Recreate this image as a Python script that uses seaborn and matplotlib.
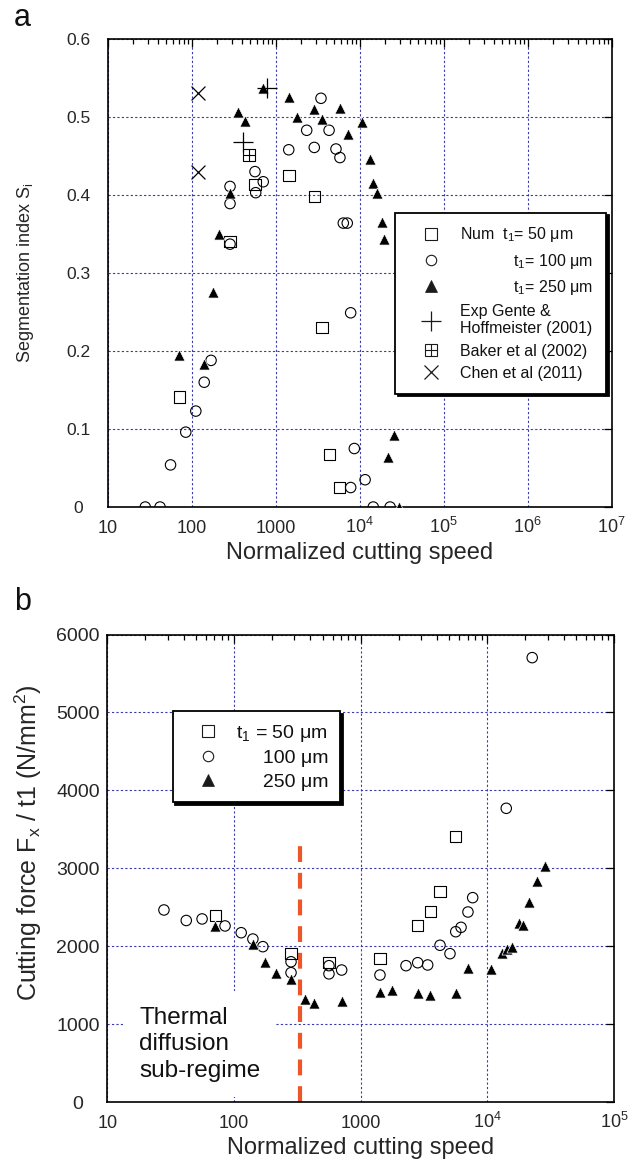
import numpy as np
import pandas as pd
import matplotlib
matplotlib.use("Agg")
import matplotlib.pyplot as plt
import seaborn as sns
from matplotlib.lines import Line2D
from matplotlib.ticker import LogLocator, NullFormatter

# ---------------- data: panel a (segmentation index) ----------------
a_sq50_x = [71, 286, 567, 1440, 2880, 3560, 4320, 5720]
a_sq50_y = [0.141, 0.340, 0.413, 0.425, 0.398, 0.230, 0.067, 0.025]

a_ci100_x = [28, 42, 56, 85, 112, 141, 170, 286, 286, 286, 567, 578, 711, 1430,
             2340, 2880, 3460, 4320, 5220, 5820, 6380, 7110, 7810, 8630, 7810,
             11600, 14500, 23000]
a_ci100_y = [0.0, 0.0, 0.054, 0.096, 0.123, 0.160, 0.188, 0.411, 0.389, 0.337,
             0.430, 0.403, 0.417, 0.458, 0.483, 0.461, 0.524, 0.483, 0.459, 0.448,
             0.364, 0.364, 0.249, 0.075, 0.025, 0.035, 0.0, 0.0]

a_tr250_x = [71, 141, 178, 211, 286, 359, 430, 711, 1440, 1810, 2880, 3590, 5820,
             7330, 10600, 13300, 14300, 16200, 18300, 19700, 21900, 25800, 29400]
a_tr250_y = [0.195, 0.183, 0.276, 0.350, 0.403, 0.507, 0.495, 0.537, 0.526, 0.500,
             0.510, 0.498, 0.511, 0.478, 0.494, 0.446, 0.416, 0.402, 0.366, 0.343,
             0.064, 0.092, 0.0]

a_gente_x = [405, 780]
a_gente_y = [0.468, 0.537]
a_baker_x = [481]
a_baker_y = [0.451]
a_chen_x = [120, 120]
a_chen_y = [0.531, 0.430]

a_xticks = [10, 100, 1000, 1e4, 1e5, 1e6, 1e7]
a_xticklabels = ["10", "100", "1000", r"10$^{4}$", r"10$^{5}$", r"10$^{6}$", r"10$^{7}$"]
a_yticks = [0, 0.1, 0.2, 0.3, 0.4, 0.5, 0.6]
a_yticklabels = ["0", "0.1", "0.2", "0.3", "0.4", "0.5", "0.6"]
a_legend_labels = [r"Num  $\mathrm{t}_1$= 50 μm",
                   r"            $\mathrm{t}_1$= 100 μm",
                   r"            $\mathrm{t}_1$= 250 μm",
                   "Exp Gente &\nHoffmeister (2001)",
                   "Baker et al (2002)",
                   "Chen et al (2011)"]

# ---------------- data: panel b (cutting force) ----------------
b_sq50_x = [71, 282, 562, 1420, 2830, 3570, 4230, 5650]
b_sq50_y = [2390, 1910, 1790, 1845, 2263, 2443, 2700, 3406]

b_ci100_x = [28, 42, 56, 85, 114, 141, 169, 282, 282, 562, 562, 708, 1420, 2280,
             2820, 3380, 4230, 5070, 5630, 6200, 7030, 7660, 14100, 22600]
b_ci100_y = [2465, 2330, 2350, 2260, 2173, 2092, 1994, 1800, 1660, 1750, 1645,
             1694, 1630, 1750, 1788, 1759, 2012, 1904, 2186, 2242, 2439, 2623,
             3770, 5704]

b_tr250_x = [71, 141, 175, 213, 282, 363, 428, 716, 1420, 1780, 2850, 3520, 5630,
             7060, 10600, 13000, 14200, 15700, 17800, 19200, 21300, 24800, 28300]
b_tr250_y = [2263, 2024, 1801, 1652, 1575, 1318, 1267, 1297, 1416, 1438, 1403,
             1374, 1403, 1720, 1703, 1917, 1960, 1994, 2302, 2272, 2563, 2837, 3030]

b_regime_x = 330
b_regime_top = 3300
b_xticks = [10, 100, 1000, 1e4, 1e5]
b_xticklabels = ["10", "100", "1000", r"10$^{4}$", r"10$^{5}$"]
b_yticks = [0, 1000, 2000, 3000, 4000, 5000, 6000]
b_yticklabels = ["0", "1000", "2000", "3000", "4000", "5000", "6000"]
b_legend_labels = [r"$\mathrm{t}_1$ = 50 μm", "     100 μm", "     250 μm"]
b_note = "Thermal\ndiffusion\nsub-regime"

# ---------------- style ----------------
sns.set_theme(style="white")
plt.rcParams['font.family'] = ['Liberation Sans', 'DejaVu Sans']
plt.rcParams['mathtext.fontset'] = 'custom'
plt.rcParams['mathtext.rm'] = 'Liberation Sans'
plt.rcParams['mathtext.it'] = 'Liberation Sans:italic'
plt.rcParams['mathtext.bf'] = 'Liberation Sans:bold'
plt.rcParams['text.color'] = '#111111'

GRID = '#3a3ab0'
fig = plt.figure(figsize=(6.29, 11.68), dpi=100)
ax1 = fig.add_axes([0.1712, 0.5659, 0.8013, 0.4007])
ax2 = fig.add_axes([0.1706, 0.0565, 0.8056, 0.4002])


def open_pts(ax, x, y, marker, ms, lw=0.8):
    sns.scatterplot(x=x, y=y, ax=ax, marker=marker, s=ms ** 2, facecolor='none',
                    edgecolor='black', linewidth=lw, zorder=3, legend=False)


def solid_pts(ax, x, y, marker, ms, lw=0.8):
    sns.scatterplot(x=x, y=y, ax=ax, marker=marker, s=ms ** 2, color='black',
                    linewidth=lw, zorder=3, legend=False)


def style_axes(ax, xlim, ylim, xticks, xlabels, yticks, ylabels, ysize):
    ax.set_xscale('log')
    ax.set_xlim(*xlim)
    ax.set_ylim(*ylim)
    ax.set_xticks(xticks, xlabels)
    ax.set_yticks(yticks, ylabels)
    ax.xaxis.set_minor_locator(LogLocator(base=10, subs=np.arange(2, 10), numticks=50))
    ax.xaxis.set_minor_formatter(NullFormatter())
    ax.grid(True, which='major', color=GRID, linestyle=(0, (2, 2)), linewidth=0.8)
    ax.grid(False, which='minor')
    for s in ax.spines.values():
        s.set_color('black')
        s.set_linewidth(1.2)
    ax.tick_params(which='both', direction='in', top=True, right=True,
                   color='black', width=0.9)
    ax.tick_params(which='major', length=6)
    ax.tick_params(which='minor', length=3.5)
    ax.tick_params(axis='x', which='major', labelsize=13, pad=19)
    ax.tick_params(axis='y', which='major', labelsize=ysize, pad=21)
    for t in ax.get_xticklabels():
        t.set_verticalalignment('baseline')
    for t in ax.get_yticklabels():
        t.set_horizontalalignment('center')
    ax.set_facecolor('white')


# ---------------- panel a ----------------
open_pts(ax1, a_sq50_x, a_sq50_y, 's', 8)
open_pts(ax1, a_ci100_x, a_ci100_y, 'o', 7.5)
solid_pts(ax1, a_tr250_x, a_tr250_y, '^', 8, lw=0.5)
solid_pts(ax1, a_gente_x, a_gente_y, '+', 15, lw=0.9)
open_pts(ax1, a_baker_x, a_baker_y, 's', 9)
solid_pts(ax1, a_baker_x, a_baker_y, '+', 9, lw=0.8)
solid_pts(ax1, a_chen_x, a_chen_y, 'x', 10, lw=0.9)

style_axes(ax1, (10, 1e7), (0, 0.6), a_xticks, a_xticklabels,
           a_yticks, a_yticklabels, 12.5)
ax1.set_xlabel("Normalized cutting speed", fontsize=17, labelpad=3)
ax1.set_ylabel(r"Segmentation index S$_\mathrm{i}$", fontsize=13)
ax1.yaxis.set_label_coords(-0.143, 0.5)

h_sq = Line2D([], [], ls='none', marker='s', ms=8, mfc='none', mec='k', mew=0.8)
h_ci = Line2D([], [], ls='none', marker='o', ms=7.5, mfc='none', mec='k', mew=0.8)
h_tr = Line2D([], [], ls='none', marker='^', ms=8, mfc='k', mec='k', mew=0.5)
h_pl = Line2D([], [], ls='none', marker='+', ms=15, mec='k', mew=0.9)
h_bk = (Line2D([], [], ls='none', marker='s', ms=9, mfc='none', mec='k', mew=0.8),
        Line2D([], [], ls='none', marker='+', ms=9, mec='k', mew=0.8))
h_x = Line2D([], [], ls='none', marker='x', ms=10, mec='k', mew=0.9)
leg1 = ax1.legend([h_sq, h_ci, h_tr, h_pl, h_bk, h_x], a_legend_labels,
                  loc='upper left', bbox_to_anchor=(0.571, 0.629),
                  frameon=True, fancybox=False, shadow={'color': 'black', 'alpha': 1},
                  edgecolor='black', framealpha=1, fontsize=11.5, borderpad=0.8,
                  handlelength=2.8, handletextpad=0.45, labelspacing=0.45,
                  borderaxespad=0)
leg1.get_frame().set_linewidth(1.3)

# ---------------- panel b ----------------
open_pts(ax2, b_sq50_x, b_sq50_y, 's', 8)
open_pts(ax2, b_ci100_x, b_ci100_y, 'o', 7.5)
solid_pts(ax2, b_tr250_x, b_tr250_y, '^', 8, lw=0.5)
ax2.vlines(b_regime_x, 0, b_regime_top, colors='#f0552a', linewidth=3,
           linestyles=(0, (3.8, 2.6)), zorder=2)

style_axes(ax2, (10, 1e5), (0, 6000), b_xticks, b_xticklabels,
           b_yticks, b_yticklabels, 14)
ax2.set_xlabel("Normalized cutting speed", fontsize=17, labelpad=3)
ax2.set_ylabel(r"Cutting force F$_\mathrm{x}$ / t1 (N/mm$^2$)", fontsize=18)
ax2.yaxis.set_label_coords(-0.124, 0.555)

ax2.text(17.8, 740, b_note, fontsize=17.5, ha='left', va='center',
         linespacing=1.25, zorder=2.5,
         bbox=dict(boxstyle='square,pad=0.65', fc='white', ec='none'))

leg2 = ax2.legend([h_sq, h_ci, h_tr], b_legend_labels,
                  loc='upper left', bbox_to_anchor=(0.129, 0.8365),
                  frameon=True, fancybox=False, shadow={'color': 'black', 'alpha': 1},
                  edgecolor='black', framealpha=1, fontsize=14, borderpad=0.6,
                  handlelength=2.4, handletextpad=0.25, labelspacing=0.3,
                  borderaxespad=0)
leg2.get_frame().set_linewidth(1.3)

fig.text(0.022, 0.978, "a", fontsize=22, va='baseline', ha='left')
fig.text(0.022, 0.478, "b", fontsize=22, va='baseline', ha='left')

fig.savefig("out.png", dpi=100, facecolor='white')
